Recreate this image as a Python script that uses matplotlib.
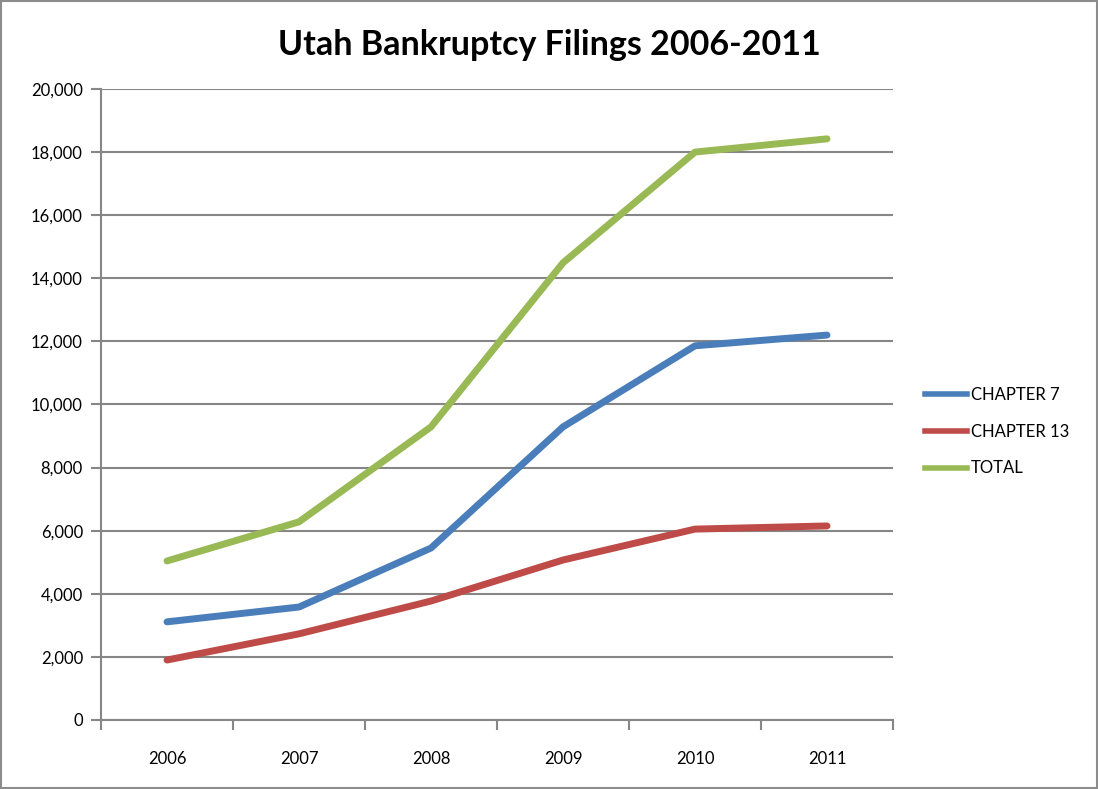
import numpy as np
import matplotlib.pyplot as plt
from matplotlib.patches import Rectangle
from matplotlib.lines import Line2D

plt.rcParams['font.family'] = ['Lato', 'DejaVu Sans']

# data
years = ['2006', '2007', '2008', '2009', '2010', '2011']
chapter7 = [3110, 3580, 5450, 9290, 11860, 12200]
chapter13 = [1900, 2730, 3770, 5070, 6050, 6150]
total = [5040, 6280, 9290, 14490, 18000, 18420]

series_names = ['CHAPTER 7', 'CHAPTER 13', 'TOTAL']
series_colors = ['#4A7EBB', '#BE4B48', '#98B954']

fig = plt.figure(figsize=(10.98, 7.89), dpi=100)
ax = fig.add_axes([0.092, 0.0875, 0.7213, 0.7997])

x = np.arange(len(years))
for vals, name, col in zip([chapter7, chapter13, total], series_names, series_colors):
    ax.plot(x, vals, color=col, linewidth=5, solid_capstyle='round',
            solid_joinstyle='round', label=name, zorder=3)

grid_col = '#868686'
ax.set_xlim(-0.5, len(years) - 0.5)
ax.set_ylim(0, 20000)
ax.set_yticks(np.arange(0, 20001, 2000))
ax.set_yticklabels([f'{v:,}' for v in range(0, 20001, 2000)])
ax.yaxis.grid(True, color=grid_col, linewidth=1.5)
ax.set_axisbelow(True)

# category ticks between the labels
ax.set_xticks(np.arange(-0.5, len(years), 1.0))
ax.set_xticklabels([])
ax.set_xticks(x, minor=True)
ax.set_xticklabels(years, minor=True)
ax.tick_params(axis='x', which='minor', length=0, pad=22, labelsize=12)
ax.tick_params(axis='x', which='major', length=7, width=1.5, color=grid_col, direction='out')
ax.tick_params(axis='y', length=7, width=1.5, color=grid_col, direction='out', pad=6, labelsize=12)

for side in ['top', 'right']:
    ax.spines[side].set_visible(False)
for side in ['left', 'bottom']:
    ax.spines[side].set_color(grid_col)
    ax.spines[side].set_linewidth(1.5)

fig.text(0.5, 0.943, 'Utah Bankruptcy Filings 2006-2011', ha='center', va='center',
         fontsize=24.5, fontweight='bold')

handles = [Line2D([], [], color=c, linewidth=4) for c in series_colors]
fig.legend(handles, series_names, loc='center left', bbox_to_anchor=(0.829, 0.453),
           frameon=False, fontsize=12, handlelength=2.5, handletextpad=0.25,
           labelspacing=1.25)

fig.patches.append(Rectangle((0.001, 0.001), 0.998, 0.998, transform=fig.transFigure,
                             fill=False, edgecolor='#8c8c8c', linewidth=1.5))

fig.savefig('out.png', dpi=100)
